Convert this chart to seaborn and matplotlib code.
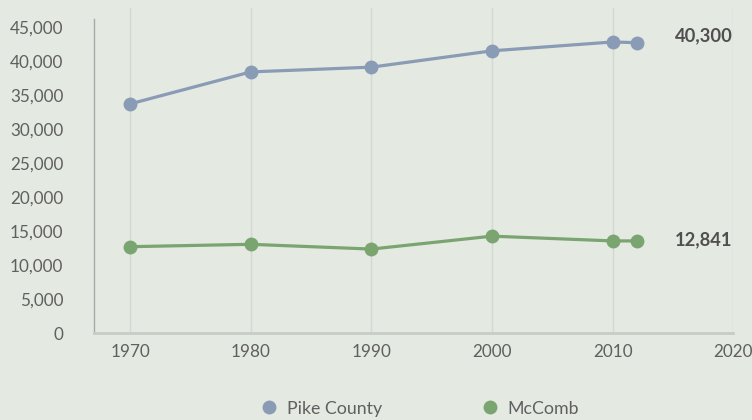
import numpy as np
import pandas as pd
import matplotlib.pyplot as plt
import seaborn as sns

# ========== data ==========
years = [1970, 1980, 1990, 2000, 2010, 2012]
pike_county = [33700, 38400, 39100, 41500, 42800, 42700]
mccomb = [12700, 13050, 12350, 14250, 13550, 13550]
end_labels = ["40,300", "12,841"]
series_names = ["Pike County", "McComb"]
x_ticks = [1970, 1980, 1990, 2000, 2010, 2020]
y_ticks = list(range(0, 45001, 5000))

df = pd.DataFrame({
    "year": years * 2,
    "population": pike_county + mccomb,
    "series": [series_names[0]] * len(years) + [series_names[1]] * len(years),
})

# ========== style ==========
bg = "#e4e9e2"
colors = {"Pike County": "#8a9bb5", "McComb": "#7aa571"}
sns.set_style("white")
plt.rcParams["font.family"] = ["Lato", "DejaVu Sans"]

fig = plt.figure(figsize=(7.52, 4.2), dpi=100, facecolor=bg)
ax = fig.add_axes([0.125, 0.207, 0.85, 0.774])
ax.set_facecolor(bg)

sns.lineplot(data=df, x="year", y="population", hue="series", palette=colors,
             marker="o", markersize=10, markeredgewidth=0, linewidth=2.3,
             legend=False, ax=ax)

# end labels
label_offset = {"Pike County": 1000, "McComb": 150}
for name, lab in zip(series_names, end_labels):
    yv = df[df.series == name].population.iloc[-1]
    ax.text(2015.2, yv + label_offset[name], lab, fontsize=13.2, fontweight="bold",
            color="#505050", ha="left", va="center")

ax.set_xlim(1967, 2020)
ax.set_ylim(0, 47800)
ax.set_xticks(x_ticks)
ax.set_yticks(y_ticks)
ax.set_yticklabels([f"{v:,}" for v in y_ticks])
ax.tick_params(axis="y", length=0, pad=22, labelsize=12.3, labelcolor="#606060")
ax.tick_params(axis="x", length=0, pad=8, labelsize=12.3, labelcolor="#606060")
ax.set_xlabel("")
ax.set_ylabel("")

ax.grid(axis="x", color="#d4d7d2", linewidth=1)
ax.grid(axis="y", visible=False)
for s in ["top", "right"]:
    ax.spines[s].set_visible(False)
ax.spines["left"].set_color("#a8aba7")
ax.spines["left"].set_linewidth(1)
ax.spines["left"].set_bounds(0, 46200)
ax.spines["bottom"].set_color("#c8cbc6")
ax.spines["bottom"].set_linewidth(2)

# legend
handles = [plt.Line2D([], [], marker="o", linestyle="", markersize=10,
                      markeredgewidth=0, color=colors[n]) for n in series_names]
fig.legend(handles, series_names, loc="center", bbox_to_anchor=(0.558, 0.027),
           ncol=2, frameon=False, fontsize=12.8, handletextpad=0.5,
           columnspacing=5.6, labelcolor="#606060", handlelength=1.0)

fig.savefig("out.png", dpi=100, facecolor=bg)
